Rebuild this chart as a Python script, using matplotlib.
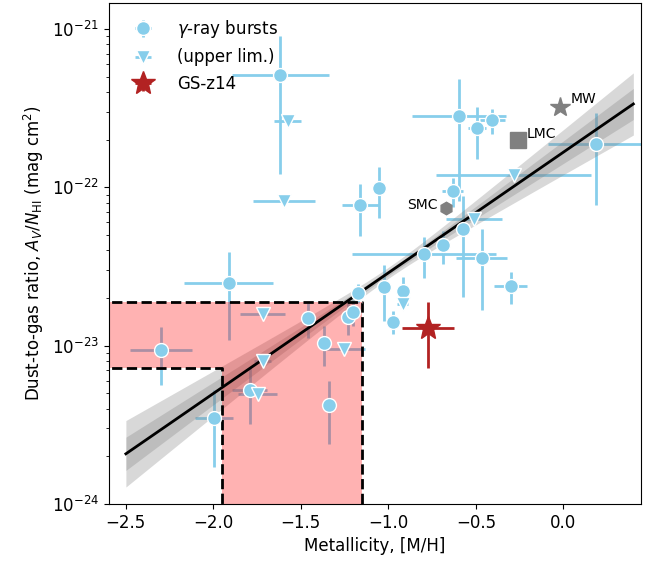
import numpy as np
import matplotlib
matplotlib.use("Agg")
from matplotlib import pyplot as plt

# gamma-ray burst detections
grb_mh = [-1.618, -1.913, -2.30, -1.995, -1.791, -1.458, -1.370, -1.338, -1.229, -1.201,
          -1.173, -1.024, -0.919, -0.971, -0.795, -0.467, -0.300, -0.685, -0.576, -0.633,
          -0.595, -0.494, -0.405, 0.189, -1.053, -1.161]
grb_dtg = [5.12e-22, 2.48e-23, 9.33e-24, 3.47e-24, 5.22e-24, 1.49e-23, 1.04e-23, 4.2e-24,
           1.52e-23, 1.64e-23, 2.16e-23, 2.34e-23, 2.21e-23, 1.42e-23, 3.78e-23, 3.59e-23,
           2.38e-23, 4.3e-23, 5.43e-23, 9.48e-23, 2.82e-22, 2.36e-22, 2.65e-22, 1.87e-22,
           9.86e-23, 7.73e-23]
grb_mh_err = [0.276, 0.256, 0.177, 0.108, 0.10, 0.03, 0.0, 0.0, 0.03, 0.03,
              0.04, 0.0, 0.03, 0.03, 0.41, 0.147, 0.095, 0.03, 0.0, 0.06,
              0.27, 0.05, 0.07, 0.274, 0.0, 0.105]
grb_dtg_err = [3.9e-22, 1.4e-23, 3.7e-24, 1.75e-24, 2.0e-24, 3.7e-24, 3.0e-24, 1.8e-24,
               3.5e-24, 3.0e-24, 3.0e-24, 9.0e-24, 5.0e-24, 2.3e-24, 1.1e-23, 1.9e-23,
               5.5e-24, 1.0e-23, 3.4e-23, 2.0e-23, 2.0e-22, 8.5e-23, 4.8e-23, 1.1e-22,
               3.5e-23, 2.8e-23]

# gamma-ray burst upper limits
ul_mh = [-1.576, -1.599, -1.719, -1.719, -1.747, -1.253, -0.919, -0.510, -0.284]
ul_dtg = [2.62e-22, 8.18e-23, 1.58e-23, 8.0e-24, 4.92e-24, 9.5e-24, 1.84e-23, 6.28e-23, 1.19e-22]
ul_mh_err = [0.076, 0.177, 0.128, 0.05, 0.11, 0.12, 0.03, 0.16, 0.443]

# GS-z14
gs_mh, gs_mh_err = -0.773, 0.147
gs_dtg, gs_dtg_err = 1.30e-23, 5.8e-24

# local galaxies
local_names = ["MW", "LMC", "SMC"]
local_mh = [-0.02, -0.26, -0.67]
local_dtg = [3.2e-22, 2.0e-22, 7.4e-23]
local_markers = ["*", "s", "h"]
local_sizes = [15, 11, 9]

# linear fit in log space: log10(DTG) = fit_pivot_val + fit_slope * (mh - fit_pivot)
fit_pivot, fit_pivot_val, fit_slope = -1.0, -22.540, 0.762
fit_sig_pivot, fit_sig_slope = 0.0175, 0.069
fit_range = (-2.5, 0.4)

# GS-z14 allowed region
box_mh = (-1.95, -1.15)
box_dtg = (7.2e-24, 1.9e-23)

xlim = (-2.597, 0.443)
ylim = (1e-24, 1.46e-21)
yticks = [1e-24, 1e-23, 1e-22, 1e-21]

fig = plt.figure(figsize=(6.6, 5.61), dpi=100)
ax = fig.add_axes([0.165, 0.1016, 0.806, 0.893])
ax.set_yscale("log")

# fit line and bands
xf = np.linspace(*fit_range, 200)
logf = fit_pivot_val + fit_slope * (xf - fit_pivot)
sig = np.sqrt(fit_sig_pivot**2 + (fit_sig_slope * (xf - fit_pivot))**2)
for n in (2, 1):
    ax.fill_between(xf, 10**(logf - n*sig), 10**(logf + n*sig), color="gray",
                    alpha=0.3, lw=0, zorder=1.2)
ax.plot(xf, 10**logf, color="black", lw=2, zorder=2.5)

# shaded region
x0 = -3.0
yb = 1e-25
px = [x0, box_mh[0], box_mh[0], box_mh[1], box_mh[1], x0]
py = [box_dtg[0], box_dtg[0], yb, yb, box_dtg[1], box_dtg[1]]
ax.fill(px, py, color="red", alpha=0.3, lw=0, zorder=1.5)
dash = dict(color="black", ls="--", lw=2, zorder=2)
ax.plot([x0, box_mh[1], box_mh[1]], [box_dtg[1], box_dtg[1], yb], **dash)
ax.plot([x0, box_mh[0], box_mh[0]], [box_dtg[0], box_dtg[0], yb], **dash)

eb_grb = ax.errorbar(grb_mh, grb_dtg, xerr=grb_mh_err, yerr=grb_dtg_err, fmt="o",
                     color="skyblue", ms=10, mec="white", mew=1, elinewidth=2, zorder=3)
eb_ul = ax.errorbar(ul_mh, ul_dtg, xerr=ul_mh_err, fmt="v", color="skyblue",
                    ms=10, mec="white", mew=1, elinewidth=2, zorder=3)
eb_gs = ax.errorbar([gs_mh], [gs_dtg], xerr=[gs_mh_err], yerr=[gs_dtg_err], fmt="*",
                    color="firebrick", ms=18, elinewidth=2, zorder=3)
for eb in (eb_grb, eb_ul, eb_gs):
    for lc in eb[2]:
        lc.set_zorder(1)

for name, x, y, m, s in zip(local_names, local_mh, local_dtg, local_markers, local_sizes):
    ax.plot(x, y, marker=m, ms=s, color="gray", ls="none", zorder=3)
ax.text(local_mh[0] + 0.06, local_dtg[0] * 1.13, "MW", fontsize=10, va="center")
ax.text(local_mh[1] + 0.05, local_dtg[1] * 1.08, "LMC", fontsize=10, va="center")
ax.text(local_mh[2] - 0.05, local_dtg[2] * 1.04, "SMC", fontsize=10, va="center", ha="right")

ax.set_xlim(*xlim)
ax.set_ylim(*ylim)
ax.set_yticks(yticks)
ax.tick_params(labelsize=12)
ax.set_xlabel("Metallicity, [M/H]", fontsize=12)
ax.set_ylabel(r"Dust-to-gas ratio, $A_V/N_{\rm HI}$ (mag cm$^2$)", fontsize=12)
ax.legend([eb_grb, eb_ul, eb_gs], [r"$\gamma$-ray bursts", "(upper lim.)", "GS-z14"],
          loc="upper left", frameon=False, fontsize=12, handlelength=2.3,
          handletextpad=0.9)

fig.savefig("out.png", dpi=100)
